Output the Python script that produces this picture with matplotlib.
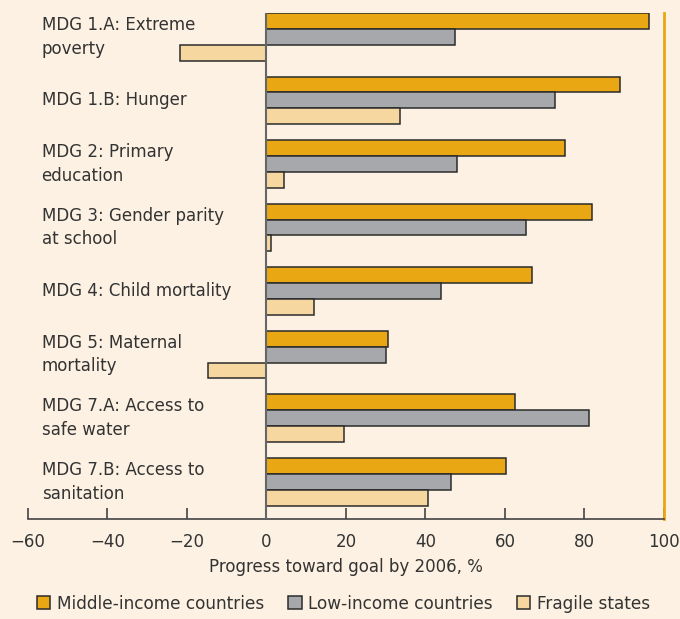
import matplotlib.pyplot as plt
import numpy as np

# Data
goals = ["MDG 1.A: Extreme\npoverty", "MDG 1.B: Hunger", "MDG 2: Primary\neducation",
         "MDG 3: Gender parity\nat school", "MDG 4: Child mortality",
         "MDG 5: Maternal\nmortality", "MDG 7.A: Access to\nsafe water",
         "MDG 7.B: Access to\nsanitation"]
middle_income = [96.1, 89.0, 75.0, 82.0, 66.7, 30.6, 62.5, 60.3]
low_income = [47.4, 72.5, 48.0, 65.4, 43.8, 30.0, 81.1, 46.4]
fragile = [-21.6, 33.5, 4.5, 1.1, 12.0, -14.6, 19.5, 40.7]
series_names = ["Middle-income countries", "Low-income countries", "Fragile states"]
colors = ["#E8A713", "#A7A8AB", "#F6D7A0"]
bg = "#FCF1E2"
txt = "#333333"

plt.rcParams['font.family'] = ['DejaVu Sans']

fig = plt.figure(figsize=(6.8, 6.19), dpi=100, facecolor=bg)
ax = fig.add_axes([0.0407, 0.1616, 0.9358, 0.8174], facecolor=bg)

y = np.arange(len(goals))
h = 0.25
for k, (vals, name, c) in enumerate(zip([middle_income, low_income, fragile], series_names, colors)):
    ax.barh(y + (k - 1) * h, vals, height=h, color=c, edgecolor="#2b2b2b",
            linewidth=1.1, label=name, zorder=3)

for i, g in enumerate(goals):
    ax.text(-56.5, i, g, ha="left", va="center", fontsize=12, color=txt,
            linespacing=1.4)

ax.axvline(0, color="#666666", lw=1.5, zorder=4)
ax.axvline(100, color="#E8A713", lw=2, zorder=2, clip_on=False)

ax.set_xlim(-60, 100)
ax.set_ylim(len(goals) - 1 + 0.375 + 0.21, -0.375)
ax.set_yticks([])
ax.set_xticks(range(-60, 101, 20))
ax.set_xticklabels(["\u221260", "\u221240", "\u221220", "0", "20", "40", "60", "80", "100"])
for s in ["top", "right", "left"]:
    ax.spines[s].set_visible(False)
ax.spines["bottom"].set_color("#444444")
ax.spines["bottom"].set_linewidth(1.2)
ax.tick_params(axis="x", direction="in", length=8, width=1.2, color="#444444",
               labelsize=12, labelcolor=txt, pad=10)
ax.set_xlabel("Progress toward goal by 2006, %", fontsize=12, color=txt, labelpad=5)

fig.legend(loc="center", bbox_to_anchor=(0.505, 0.025), ncol=3, frameon=False,
           fontsize=12.2, handlelength=0.8, handleheight=0.8, handletextpad=0.4,
           columnspacing=1.4, labelcolor=txt)

plt.savefig("out.png", dpi=100, facecolor=bg)
